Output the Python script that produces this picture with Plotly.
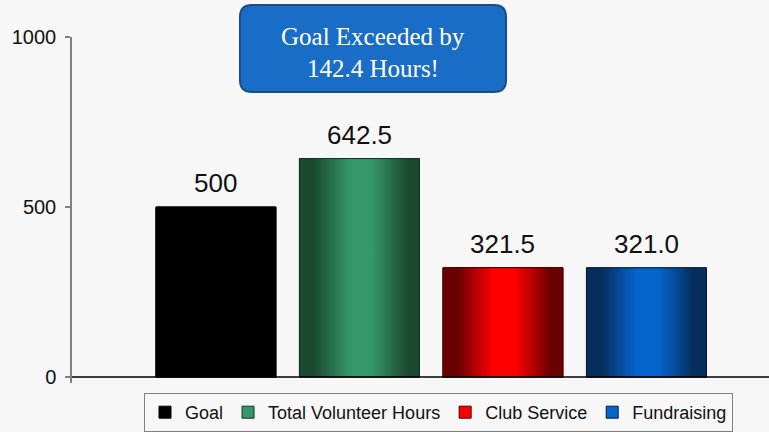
import plotly.graph_objects as go

series_names = ["Goal", "Total Volunteer Hours", "Club Service", "Fundraising"]
series_values = [500, 642.5, 321.5, 321.0]
value_labels = ["500", "642.5", "321.5", "321.0"]
y_ticks = [0, 500, 1000]
callout_lines = ["Goal Exceeded by", "142.4 Hours!"]

edge_colors = ["#000000", "#1b4a31", "#6a0000", "#062d5c"]
mid_colors = ["#000000", "#35986a", "#ff0000", "#0466cc"]
line_colors = ["#000000", "#123322", "#4a0000", "#041e3c"]

BAR_W = 0.836
fig = go.Figure()

# legend-carrying bars
for i, (name, v) in enumerate(zip(series_names, series_values)):
    fig.add_trace(go.Bar(
        x=[i], y=[v], width=BAR_W, name=name,
        marker=dict(color=mid_colors[i], line=dict(color=line_colors[i], width=1)),
        hoverinfo="skip",
    ))

# gradient overlays
for i, v in enumerate(series_values):
    x0, x1 = i - BAR_W / 2, i + BAR_W / 2
    fig.add_trace(go.Scatter(
        x=[x0, x1, x1, x0, x0], y=[0, 0, v, v, 0],
        mode="lines", fill="toself", showlegend=False,
        line=dict(color=line_colors[i], width=1),
        fillgradient=dict(type="horizontal", colorscale=[
            [0, edge_colors[i]], [0.12, edge_colors[i]], [0.42, mid_colors[i]],
            [0.6, mid_colors[i]], [0.9, edge_colors[i]], [1, edge_colors[i]]]),
        hoverinfo="skip",
    ))

for i, (v, lab) in enumerate(zip(series_values, value_labels)):
    fig.add_annotation(x=i, y=v, xref="x", yref="y", text=lab, showarrow=False,
                       xanchor="center", yanchor="bottom", yshift=7,
                       font=dict(family="Liberation Sans, Arial", size=26, color="#111111"))

# baseline
fig.add_shape(type="line", xref="paper", yref="y", x0=0, x1=1, y0=0, y1=0,
              line=dict(color="#000000", width=1.5))

# rounded callout box
bx0, bx1, by0, by1 = 0.241, 0.6227, 0.841, 1.0925
rx, ry = 12 / 697, 12 / 346
path = (f"M {bx0+rx},{by0} L {bx1-rx},{by0} Q {bx1},{by0} {bx1},{by0+ry} "
        f"L {bx1},{by1-ry} Q {bx1},{by1} {bx1-rx},{by1} "
        f"L {bx0+rx},{by1} Q {bx0},{by1} {bx0},{by1-ry} "
        f"L {bx0},{by0+ry} Q {bx0},{by0} {bx0+rx},{by0} Z")
fig.add_shape(type="path", xref="paper", yref="paper", path=path,
              fillcolor="#1a6dc6", line=dict(color="#1a4d87", width=2))
for k, line_text in enumerate(callout_lines):
    fig.add_annotation(xref="paper", yref="paper", x=(bx0 + bx1) / 2,
                       y=(383 - (36 + 33 * k)) / 346,
                       text=line_text, showarrow=False,
                       font=dict(family="Liberation Serif, DejaVu Serif", size=25, color="white"),
                       xanchor="center", yanchor="middle")

fig.update_layout(
    width=769, height=432,
    margin=dict(l=72, r=0, t=37, b=49, autoexpand=False),
    paper_bgcolor="#f7f7f7", plot_bgcolor="#f7f7f7",
    font=dict(family="Liberation Sans, Arial", color="#111111"),
    barmode="overlay",
    xaxis=dict(range=[-1.003, 3.854], showticklabels=False, showgrid=False,
               zeroline=False, showline=False, ticks="", automargin=False),
    yaxis=dict(range=[-17.6, 1000], tickvals=y_ticks, showgrid=False, zeroline=False,
               showline=True, linecolor="#808080", linewidth=1.5,
               ticks="outside", ticklen=5, tickcolor="#808080", tickwidth=1.5,
               ticklabelstandoff=5, automargin=False,
               tickfont=dict(family="Liberation Sans, Arial", size=20, color="#111111")),
    legend=dict(orientation="h", xref="container", yref="container",
                x=438.5 / 769, xanchor="center", y=1 - 393 / 432, yanchor="top",
                bordercolor="#808080", borderwidth=1, bgcolor="#f7f7f7",
                font=dict(family="Liberation Sans, Arial", size=18, color="#111111"),
                itemwidth=30, traceorder="normal"),
    showlegend=True,
)

fig.write_html("out.html", config={"displayModeBar": False},
               post_script="document.body.style.margin='0';document.body.style.overflow='hidden';")
